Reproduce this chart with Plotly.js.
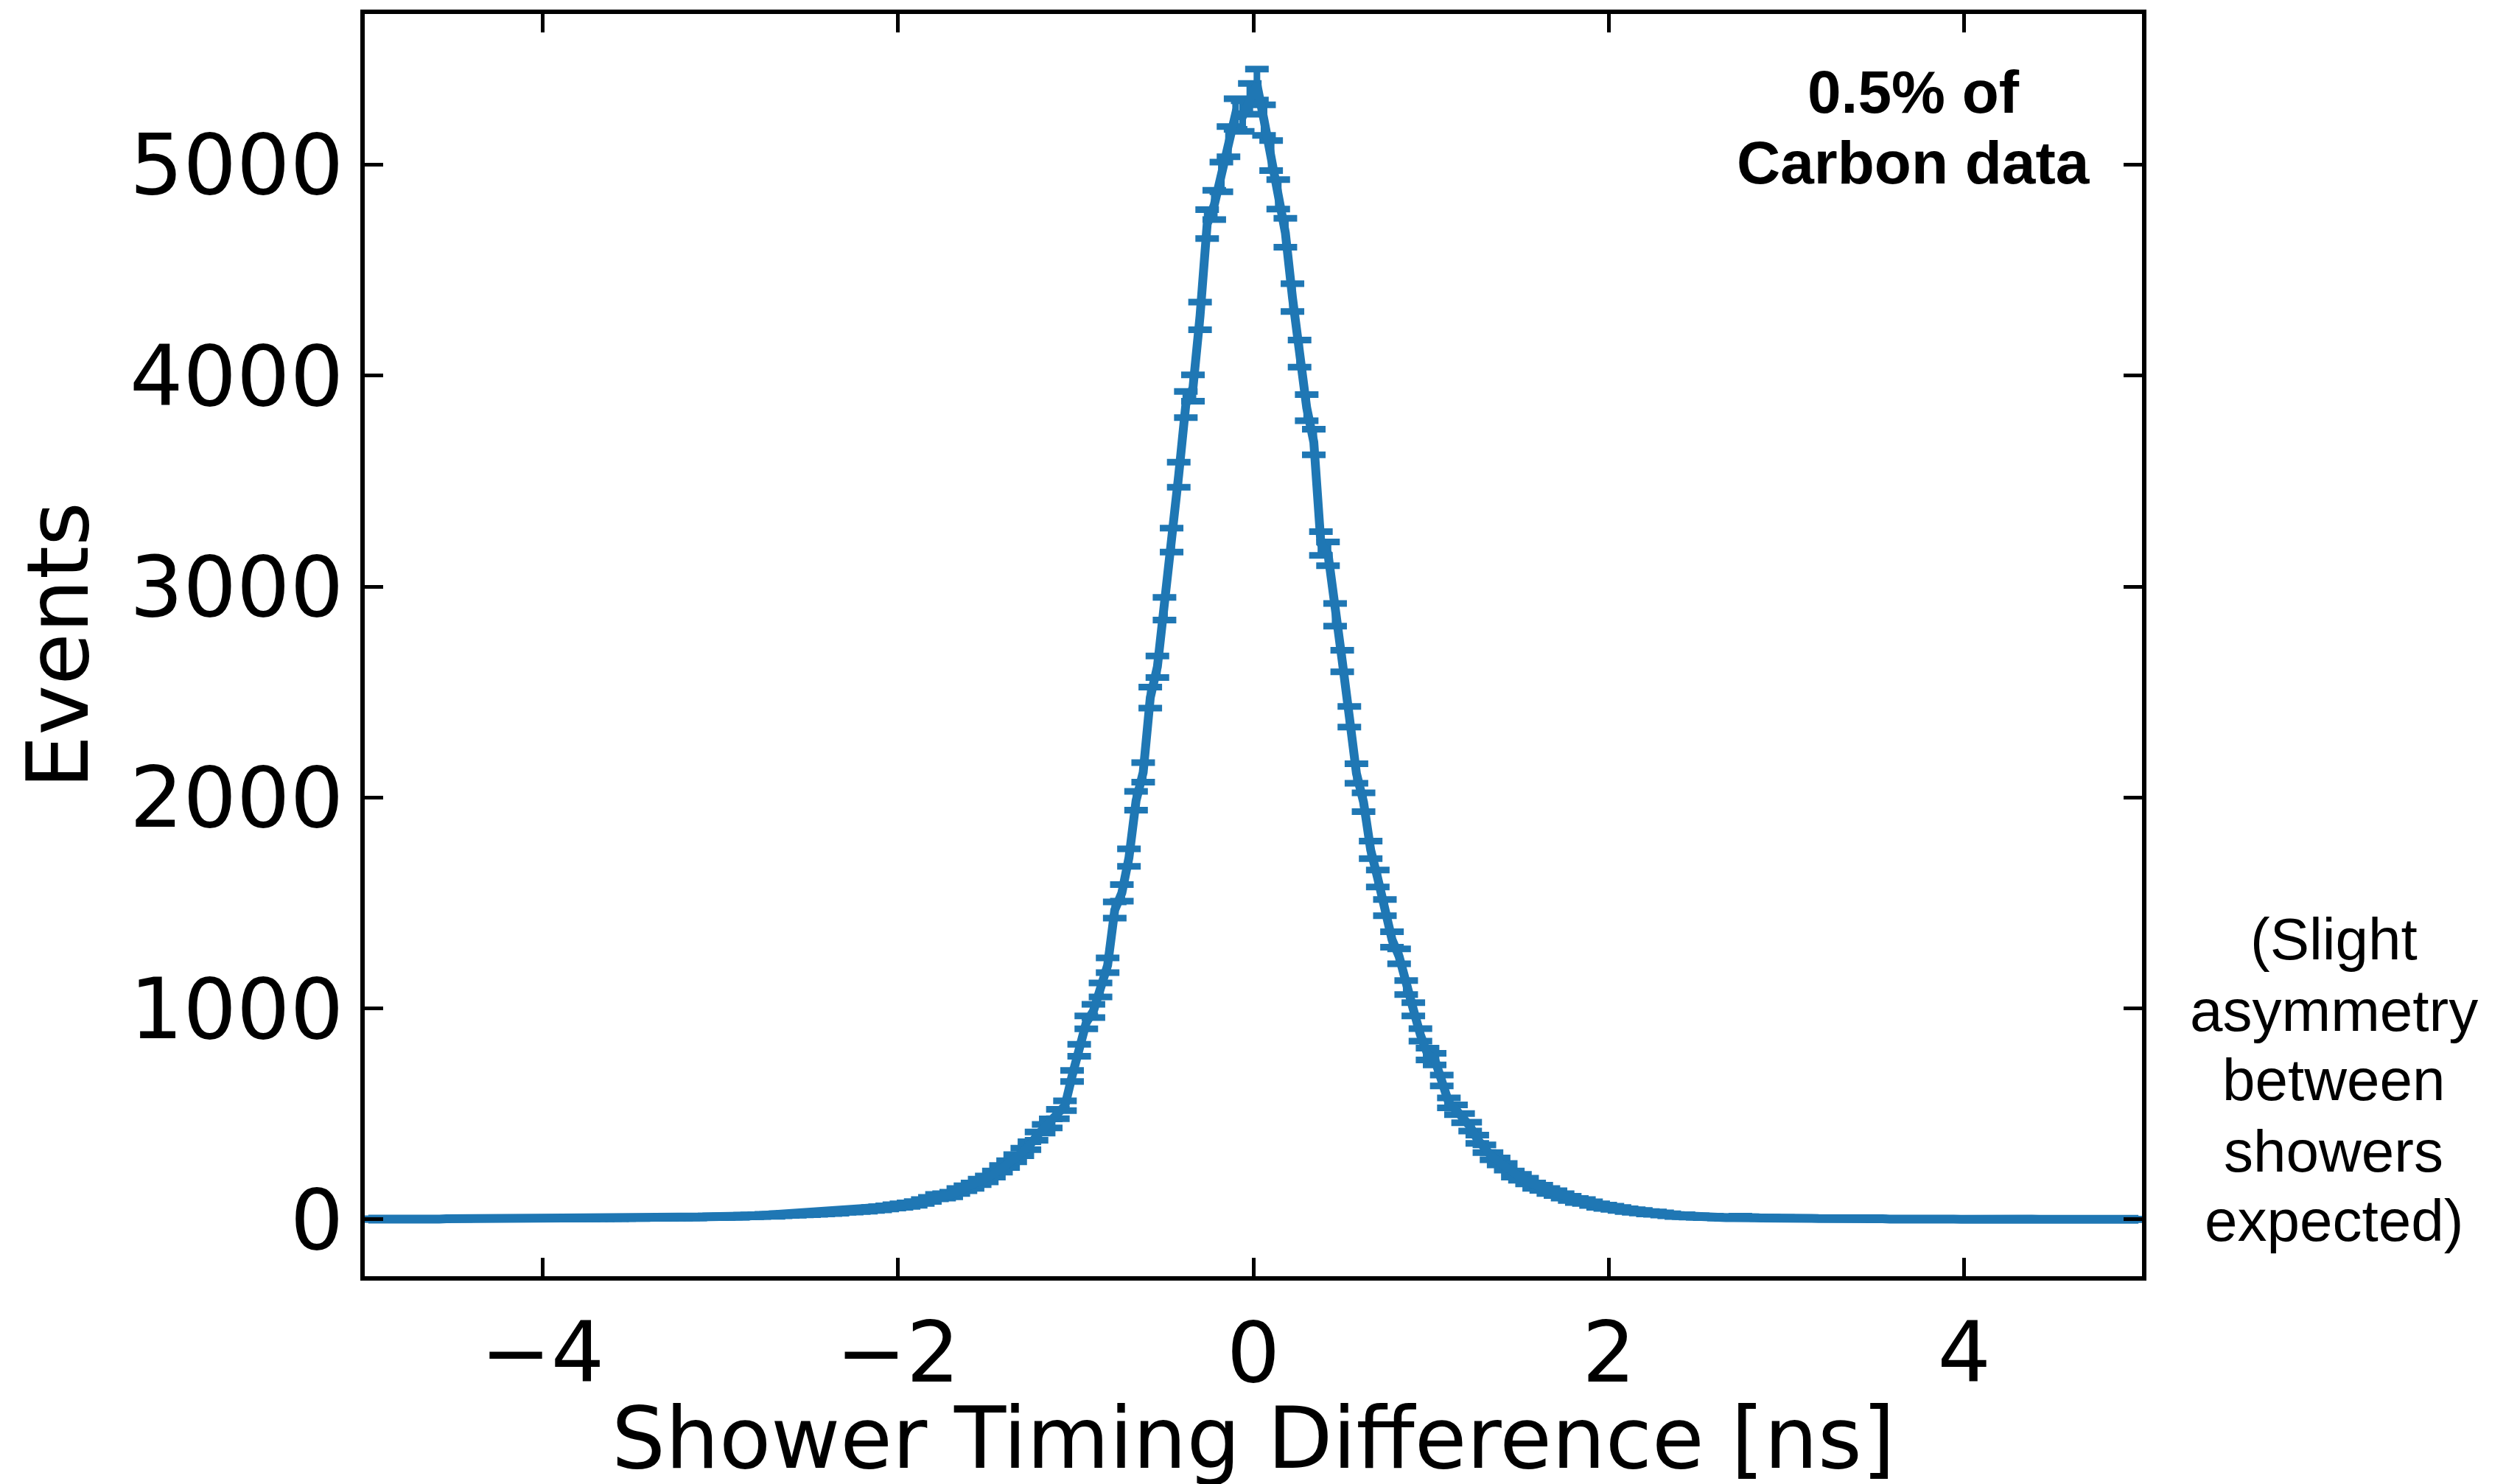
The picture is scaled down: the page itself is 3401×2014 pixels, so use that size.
<!DOCTYPE html>
<html>
<head>
<meta charset="utf-8">
<script src="https://cdn.plot.ly/plotly-3.0.1.min.js"></script>
<style>
  html, body { margin: 0; padding: 0; background: #ffffff; }
  #chart { width: 3401px; height: 2014px; }
</style>
</head>
<body>
<div id="chart"></div>
<script>
// Histogram of shower timing difference: 250 bins of width 0.04 ns, first bin centre -4.98 ns
const binStart = -4.98;
const binWidth = 0.04;

// counts per bin, left tail (-4.98 .. -2.06)
const countsLeftTail = [
  2, 1, 2, 2, 1, 3, 2, 2, 3, 2, 2, 3, 3, 2, 3, 3, 4, 3, 3, 4, 3, 4, 4, 3, 5,
  4, 5, 5, 4, 5, 6, 5, 6, 6, 7, 6, 7, 8, 7, 8, 9, 8, 9, 10, 10, 11, 10, 12, 13, 12,
  13, 15, 14, 16, 17, 18, 20, 19, 22, 24, 25, 27, 28, 30, 32, 34, 36, 40, 41, 44, 46, 50, 53, 57
];
// counts per bin, core (-2.02 .. 2.02)
const countsCore = [
  62, 66, 70, 76, 85, 95, 108, 112, 118, 135, 148, 160, 178, 192, 215, 240, 262, 290, 320, 350, 395, 430, 455, 500,
  539, 680, 802, 934, 988, 1088, 1205, 1467, 1548, 1715, 1985, 2119, 2474, 2620, 2895, 3220, 3530, 3863, 3941, 4283,
  4718, 4809, 4942, 5109, 5240, 5230, 5312,
  5380, 5211, 5043, 4859, 4677, 4370, 4104, 3848, 3685, 3204, 3155, 2866, 2647, 2383, 2114, 1978, 1752, 1616, 1478,
  1327, 1247, 1099, 996, 875, 784, 760, 659, 553,
  520, 480, 440, 380, 335, 300, 275, 250, 215, 200, 182, 160, 150, 135, 125, 112, 100, 90, 85, 75, 66, 60, 55
];
// counts per bin, right tail (2.06 .. 4.98)
const countsRightTail = [
  50, 44, 40, 37, 32, 30, 26, 22, 18, 18, 15, 14, 12, 12, 10, 9, 9, 12, 10, 8, 7, 8, 6, 7, 6,
  5, 6, 5, 4, 5, 4, 4, 3, 4, 3, 3, 4, 3, 2, 3, 3, 2, 3, 2, 2, 3, 2, 2, 1, 2,
  2, 1, 2, 1, 1, 2, 1, 1, 2, 1, 1, 1, 2, 1, 1, 0, 1, 1, 1, 0, 1, 1, 0, 1
];
const counts = countsLeftTail.concat(countsCore, countsRightTail);

const xTickVals = [-4, -2, 0, 2, 4];
const xTickText = ["\u22124", "\u22122", "0", "2", "4"];
const yTickVals = [0, 1000, 2000, 3000, 4000, 5000];
const yTickText = ["0", "1000", "2000", "3000", "4000", "5000"];

const xTitle = "Shower Timing Difference [ns]";
const yTitle = "Events";
const noteLines = ["0.5% of", "Carbon data"];
const sideLines = ["(Slight", "asymmetry", "between", "showers", "expected)"];

const blue = "#1f77b4";

const trace = {
  type: "scatter",
  mode: "lines",
  x0: binStart,
  dx: binWidth,
  y: counts,
  line: { color: blue, width: 12 },
  error_y: { type: "sqrt", visible: true, color: blue, thickness: 9, width: 16 },
  hoverinfo: "skip"
};

const tickFont = { family: "DejaVu Sans", size: 114, color: "#000000" };
const titleFont = { family: "DejaVu Sans", size: 115, color: "#000000" };

const notePaperY = [0.9387, 0.8821];
const sidePaperY = [0.2668, 0.2107, 0.1553, 0.0992, 0.0438];

const annotations = [];
// axis titles
annotations.push({
  xref: "paper", yref: "paper", x: 0.5, y: -0.1284,
  xanchor: "center", yanchor: "middle", showarrow: false, text: xTitle, font: titleFont
});
annotations.push({
  xref: "paper", yref: "paper", x: -0.1725, y: 0.5, textangle: -90,
  xanchor: "center", yanchor: "middle", showarrow: false, text: yTitle, font: titleFont
});
noteLines.forEach((t, i) => {
  annotations.push({
    xref: "paper", yref: "paper", x: 0.8715, y: notePaperY[i],
    xanchor: "center", yanchor: "middle", showarrow: false, text: "<b>" + t + "</b>",
    font: { family: "Liberation Sans", size: 82, color: "#000000" }
  });
});
sideLines.forEach((t, i) => {
  annotations.push({
    xref: "paper", yref: "paper", x: 1.1078, y: sidePaperY[i],
    xanchor: "center", yanchor: "middle", showarrow: false, text: t,
    font: { family: "Liberation Sans", size: 80, color: "#000000" }
  });
});

const axisCommon = {
  showline: true, linecolor: "#000000", linewidth: 6, mirror: "ticks",
  ticks: "inside", ticklen: 25, tickwidth: 5, tickcolor: "#000000",
  showgrid: false, zeroline: false, tickfont: tickFont, automargin: false
};

const layout = {
  width: 3401, height: 2014,
  margin: { l: 495, r: 494, t: 19, b: 282, pad: 0 },
  paper_bgcolor: "#ffffff", plot_bgcolor: "#ffffff",
  showlegend: false,
  xaxis: Object.assign({}, axisCommon, {
    range: [-5, 5], tickmode: "array", tickvals: xTickVals, ticktext: xTickText
  }),
  yaxis: Object.assign({}, axisCommon, {
    range: [-269, 5714], tickmode: "array", tickvals: yTickVals, ticktext: yTickText
  }),
  annotations: annotations
};

Plotly.newPlot("chart", [trace], layout, { staticPlot: true, displayModeBar: false });
</script>
</body>
</html>
